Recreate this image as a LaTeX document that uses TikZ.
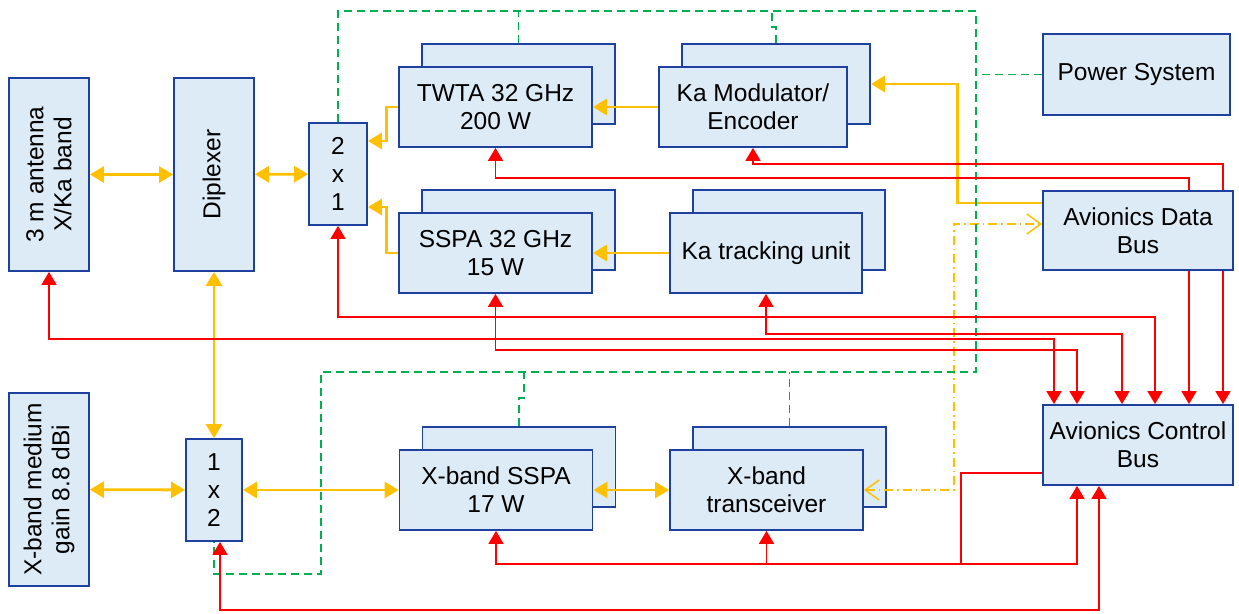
\documentclass[tikz,border=0pt]{standalone}
\usepackage{fontspec}
\setmainfont{Liberation Sans}
\usepackage{xcolor}
\usetikzlibrary{arrows.meta}

\definecolor{boxfill}{RGB}{221,235,247}
\definecolor{boxline}{RGB}{30,65,160}
\definecolor{sigline}{RGB}{255,192,0}
\definecolor{pwrline}{RGB}{0,176,80}

\begin{document}
\begin{tikzpicture}[x=1pt, y=-1pt,
  every node/.style={font=\fontsize{24.5}{28}\selectfont},
  blk/.style={draw=boxline, line width=1.8pt, fill=boxfill, align=center, inner sep=0pt},
  unit/.style={blk, minimum width=193pt, minimum height=80pt},
  sig/.style={draw=sigline, line width=2.8pt, >={Triangle[length=14pt,width=16pt]}},
  sigdd/.style={draw=sigline, line width=1.5pt, dash pattern=on 9pt off 4pt on 1.5pt off 4pt, >={Straight Barb[length=14pt,width=20pt]}},
  ctl/.style={draw=red, line width=1.6pt, >={Triangle[length=13pt,width=15pt]}},
  pwr/.style={draw=pwrline, line width=1.5pt, dash pattern=on 8pt off 5pt}]
\useasboundingbox (0,0) rectangle (1239,613);

% antennas, diplexer and switches
\node[blk, minimum width=80pt, minimum height=193pt] (ant) at (49,174.5) {};
\node[rotate=90, align=center] (anttxt) at (ant) {3 m antenna\\X/Ka band};
\node[blk, minimum width=80pt, minimum height=193pt] (dip) at (214,174.5) {};
\node[rotate=90] (diptxt) at (dip) {Diplexer};
\node[blk, minimum width=80pt, minimum height=193pt] (xant) at (49,489.5) {};
\node[rotate=90, align=center] (xanttxt) at (xant) {X-band medium\\gain 8.8 dBi};
\node[blk, minimum width=58pt, minimum height=102pt] (sw21) at (338,174) {2\\x\\1};
\node[blk, minimum width=56pt, minimum height=102pt] (sw12) at (214,490) {1\\x\\2};

% redundant units (spare drawn behind)
\node[unit] (twtaback) at (518.5,84) {};
\node[unit] (twta) at (495.5,107) {TWTA 32 GHz\\200 W};
\node[unit, minimum width=188pt] (kamodback) at (776,84) {};
\node[unit, minimum width=188pt] (kamod) at (753,107) {Ka Modulator/\\Encoder};
\node[unit] (sspaback) at (518.5,230) {};
\node[unit] (sspa) at (495.5,253) {SSPA 32 GHz\\15 W};
\node[unit, minimum width=192pt] (katrkback) at (789,230) {};
\node[unit, minimum width=192pt] (katrk) at (766,253) {Ka tracking unit};
\node[unit] (xsspaback) at (519,467) {};
\node[unit] (xsspa) at (496,490) {X-band SSPA\\17 W};
\node[unit] (xtrxback) at (789.5,467) {};
\node[unit] (xtrx) at (766.5,490) {X-band\\transceiver};

% spacecraft buses
\node[blk, minimum width=187pt, minimum height=81pt] (psys) at (1136.5,74.5) {Power System};
\node[blk, minimum width=190pt, minimum height=79pt] (dbus) at (1138,230.5) {Avionics Data\\Bus};
\node[blk, minimum width=190pt, minimum height=80pt] (cbus) at (1138,445) {Avionics Control\\Bus};

% RF paths
\draw[sig, <->] (ant) -- (dip);
\draw[sig, <->] (dip) -- (sw21);
\draw[sig, ->] (twta.west) -- ++(-12,0) |- ([yshift=33pt]sw21.east);
\draw[sig, ->] (sspa.west) -- ++(-12,0) |- ([yshift=-33pt]sw21.east);
\draw[sig, ->] (kamod.west) -- (twta.east);
\draw[sig, ->] (katrk.west) -- (sspa.east);
\draw[sig, ->] ([yshift=27.5pt]dbus.west) -- ++(-85,0) |- (kamodback.east);
\draw[sig, <->] (dip.south) -- (sw12.north);
\draw[sig, <->] (xant) -- (sw12);
\draw[sig, <->] (sw12) -- (xsspa);
\draw[sig, <->] (xsspa.east) -- (xtrx.west);
\draw[sigdd, <->] (xtrx.east) -- ++(90,0) |- ([yshift=6.5pt]dbus.west);

% power distribution
\coordinate (ptop) at (976,11);
\coordinate (pbot) at (976,372);
\draw[pwr] (sw21.north) |- (ptop) -- (pbot) -- ++(-655,0) -- ++(0,202) -| (sw12.south);
\draw[pwr] (psys.west) -- (psys.west -| ptop);
\draw[pwr] (twtaback.north) -- (twtaback.north |- ptop);
\draw[pwr] (kamodback.north) -- ++(0,-16) -- ++(-4,0) -- ++(0,-17);
\draw[pwr] (xsspaback.north) -- ++(0,-28) -- ++(5,0) -- ++(0,-28);
\draw[pwr] (xtrxback.north) -- (xtrxback.north |- pbot);

% control lines
\draw[ctl, <-] (twta.south) -- ++(0,30) -| ([xshift=51pt]dbus.north);
\draw[ctl, ->] ([xshift=51pt]dbus.south) -- ([xshift=51pt]cbus.north);
\draw[ctl, <-] (kamod.south) -- ++(0,16) -| ([xshift=85pt]dbus.north);
\draw[ctl, ->] ([xshift=85pt]dbus.south) -- ([xshift=85pt]cbus.north);
\draw[ctl, <->] (sw21.south) -- ++(0,91) -| ([xshift=17pt]cbus.north);
\draw[ctl, <->] (katrk.south) -- ++(0,40) -| ([xshift=-16pt]cbus.north);
\draw[ctl, <->] (ant.south) -- ++(0,67) -| ([xshift=-84pt]cbus.north);
\draw[ctl, <->] (sspa.south) -- ++(0,56) -| ([xshift=-61pt]cbus.north);
\draw[ctl, <-] (xsspa.south) -- ++(0,33) coordinate (xs) -- ++(465,0) coordinate (xj) |- ([yshift=-28pt]cbus.west);
\draw[ctl, ->] (xj) -| ([xshift=-61pt]cbus.south);
\draw[ctl, ->] (xtrx.south |- xs) -- (xtrx.south);
\draw[ctl, <->] ([xshift=6pt]sw12.south) -- ++(0,68) -| ([xshift=-39pt]cbus.south);
\end{tikzpicture}
\end{document}
